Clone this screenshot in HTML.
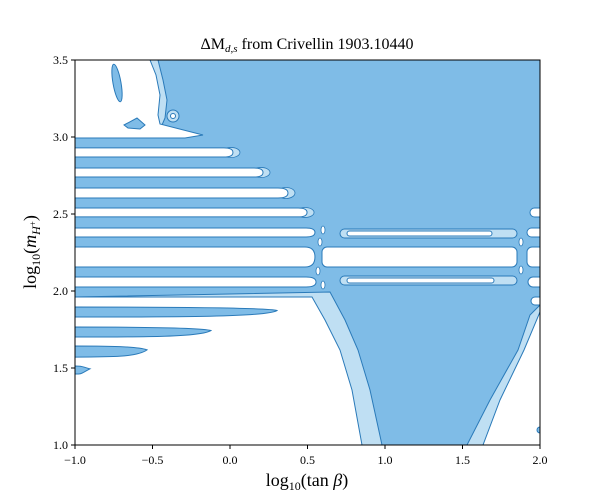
<!DOCTYPE html>
<html><head><meta charset="utf-8"><style>
body{margin:0;background:#fff}
svg{display:block;font-family:"Liberation Serif",serif}
</style></head><body>
<svg id="c" width="600" height="500" xmlns="http://www.w3.org/2000/svg">
<text x="307" y="49" font-size="16" text-anchor="middle">ΔM<tspan font-style="italic" font-size="11" dy="3">d,s</tspan><tspan dy="-3"> from Crivellin 1903.10440</tspan></text>
<defs><clipPath id="pc"><rect x="75" y="60" width="465" height="385"/></clipPath></defs>
<g id="plot" clip-path="url(#pc)"></g>
<g id="axes"></g>
<text x="307" y="486" font-size="18" text-anchor="middle">log<tspan font-size="12" dy="4">10</tspan><tspan dy="-4">(tan </tspan><tspan font-style="italic">β</tspan>)</text>
<text transform="translate(36,252) rotate(-90)" font-size="18" text-anchor="middle">log<tspan font-size="12" dy="4">10</tspan><tspan dy="-4">(</tspan><tspan font-style="italic">m</tspan><tspan font-size="12" font-style="italic" dy="4">H</tspan><tspan font-size="9" dy="-4">+</tspan>)</text>
</svg>
<script>
const xTicks=[-1.0,-0.5,0.0,0.5,1.0,1.5,2.0];
const yTicks=[1.0,1.5,2.0,2.5,3.0,3.5];
// left white stripes: [top, bottom, xEnd] in data units
const stripeTop=[2.929,2.799,2.669,2.539,2.409,2.286,2.091];
const stripeBot=[2.870,2.740,2.604,2.481,2.351,2.156,2.026];
const stripeEnd=[0.019,0.213,0.374,0.497,0.548,0.548,0.555];
// dark tongues below
const tongueTop=[1.896,1.766,1.643,1.513];
const tongueBot=[1.831,1.701,1.571,1.461];
const tongueEnd=[0.303,-0.123,-0.535,-0.903];
const X=v=>75+(v+1)*155, Y=v=>445-(v-1)*154;
const DARK="#7fbce7",LIGHT="#bfdff3",EDGE="#2a7ab9";
const NS="http://www.w3.org/2000/svg";
const plot=document.getElementById('plot'),axes=document.getElementById('axes');
function mk(tag,at,parent,name){const e=document.createElementNS(NS,tag);for(const k in at)e.setAttribute(k,at[k]);


(parent||plot).appendChild(e);return e;}
function poly(pts,fill,name){return mk('polygon',{points:pts.map(p=>p.join(',')).join(' '),fill:fill,stroke:EDGE,'stroke-width':1},plot,name);}
mk('rect',{x:75,y:60,width:465,height:385,fill:DARK},plot,'plot-background');
// light bands
poly([[75,297],[330,292],[345,320],[358,350],[370,390],[382,445],[75,445]],LIGHT,'light-band-left');
poly([[540,305],[530,315],[518,350],[490,400],[467,445],[540,445]],LIGHT,'light-band-right');
poly([[75,60],[158,60],[163,80],[167,100],[165,118],[162,125],[75,138]],LIGHT,'light-band-top');
// white regions
poly([[75,297],[312,297],[325,320],[340,350],[352,390],[362,445],[75,445]],'#fff','white-region-left');
poly([[540,312],[524,350],[500,400],[483,445],[540,445]],'#fff','white-region-right');
poly([[75,60],[150,60],[156,75],[160,95],[158,115],[160,124],[203,135],[185,138],[75,138]],'#fff','white-region-top');
mk('path',{d:'M540,427 a3,3 0 0 0 0,6 z',fill:DARK,stroke:EDGE},plot,'dark-bump');
// left stripes
stripeTop.forEach((t,i)=>{const y1=Y(t),y2=Y(stripeBot[i]),xe=X(stripeEnd[i]),h=y2-y1,m=(y1+y2)/2,r=Math.min(h/2,5);
 if(i<4) mk('ellipse',{cx:xe-2,cy:m,rx:9,ry:h/2+0.5,fill:LIGHT,stroke:EDGE,'stroke-width':0.8},plot,'stripe-tip-'+i);
 mk('path',{d:`M75,${y1} L${xe-r*2},${y1} Q${xe},${y1} ${xe},${m} Q${xe},${y2} ${xe-r*2},${y2} L75,${y2} Z`,fill:'#fff',stroke:EDGE,'stroke-width':1},plot,'white-stripe-'+i);});
tongueTop.forEach((t,i)=>{const y1=Y(t),y2=Y(tongueBot[i]),xe=X(tongueEnd[i]),L=xe-75,m=y1+(y2-y1)*0.35;
 mk('path',{d:`M75,${y1} C${75+L*0.6},${y1} ${xe-8},${y1+1} ${xe},${m} C${xe-10},${y2} ${75+L*0.5},${y2} 75,${y2} Z`,fill:DARK,stroke:EDGE,'stroke-width':1},plot,'dark-tongue-'+i);});
// right-side stripes
function rr(x1,x2,y1,y2,fill,name){const h=y2-y1;mk('rect',{x:x1,y:y1,width:x2-x1,height:h,rx:Math.min(h/2,5),fill:fill,stroke:EDGE,'stroke-width':1},plot,name);}
rr(322,517,247,267,'#fff','white-stripe-mid');
rr(527,545,247,267,'#fff','white-stripe-right-mid');
rr(340,517,229,238,LIGHT,'light-stripe-upper');
rr(347,492,231,236,'#fff','white-stripe-upper');
rr(340,517,276,285,LIGHT,'light-stripe-lower');
rr(347,494,278,283,'#fff','white-stripe-lower');
rr(527,545,228,237,'#fff','white-stripe-r1');
rr(530,545,208,217,'#fff','white-stripe-r2');
rr(528,545,277,287,'#fff','white-stripe-r3');
rr(531,545,297,305,'#fff','white-stripe-r4');
[[320,242],[318,271],[521,242],[521,270],[323,230],[323,285]].forEach((p,i)=>mk('ellipse',{cx:p[0],cy:p[1],rx:2,ry:4,fill:'#fff',stroke:EDGE,'stroke-width':0.8},plot,'gutter-blob-'+i));
// islands
mk('ellipse',{cx:117,cy:83,rx:4,ry:19,transform:'rotate(-10 117 83)',fill:DARK,stroke:EDGE},plot,'island-ellipse');
poly([[124,125],[137,118],[145,125],[140,129],[128,128]],DARK,'island-triangle');
mk('circle',{cx:173,cy:116,r:6,fill:LIGHT,stroke:EDGE},plot,'island-circle');
mk('circle',{cx:173,cy:116,r:2.5,fill:'#fff',stroke:EDGE},plot,'island-hole');
mk('rect',{x:75,y:60,width:465,height:385,fill:'none',stroke:'#000','stroke-width':1},axes,'plot-frame');
xTicks.forEach((v,i)=>{const x=X(v);
 mk('line',{x1:x,x2:x,y1:445,y2:449,stroke:'#000'},axes,'x-tick-'+i);
 const t=mk('text',{x:x,y:464,'font-size':12,'text-anchor':'middle'},axes,'x-tick-label-'+i);t.textContent=(v<0?'−':'')+Math.abs(v).toFixed(1);});
yTicks.forEach((v,i)=>{const y=Y(v);
 mk('line',{x1:71,x2:75,y1:y,y2:y,stroke:'#000'},axes,'y-tick-'+i);
 const t=mk('text',{x:68,y:y+4,'font-size':12,'text-anchor':'end'},axes,'y-tick-label-'+i);t.textContent=v.toFixed(1);});
</script>
</body></html>
